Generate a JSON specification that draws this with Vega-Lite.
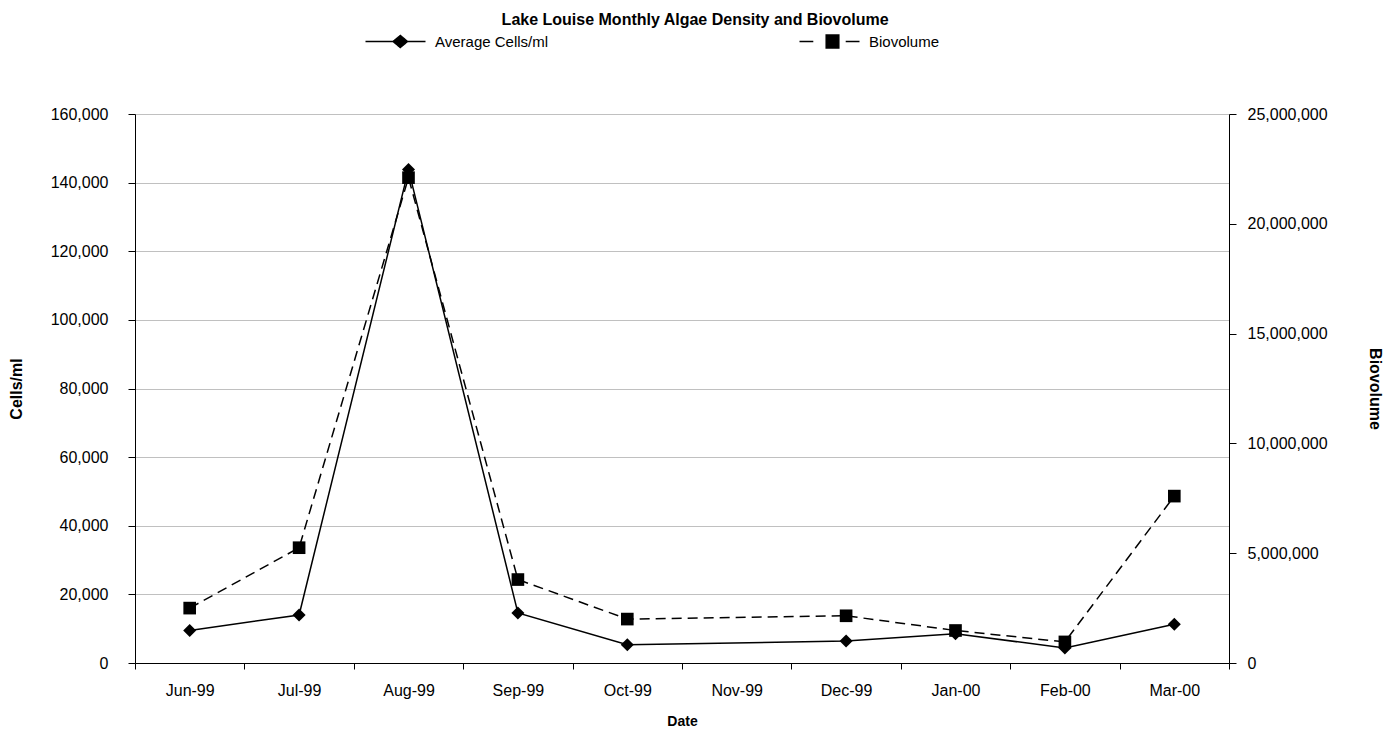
{
  "$schema": "https://vega.github.io/schema/vega-lite/v6.json",
  "width": 1393,
  "height": 731,
  "autosize": {"type": "fit", "contains": "padding"},
  "padding": {"left": 8, "right": 10, "top": 12, "bottom": 3},
  "background": "white",
  "title": {
    "text": "Lake Louise Monthly Algae Density and Biovolume",
    "font": "Liberation Sans",
    "fontSize": 16,
    "fontWeight": "bold",
    "color": "black",
    "anchor": "middle",
    "frame": "bounds",
    "offset": 78
  },
  "config": {
    "view": {"stroke": null},
    "font": "Liberation Sans",
    "axis": {
      "labelFont": "Liberation Sans",
      "labelFontSize": 16,
      "labelColor": "black",
      "titleFont": "Liberation Sans",
      "titleFontSize": 16,
      "titleFontWeight": "bold",
      "titleColor": "black",
      "domainColor": "black",
      "domainWidth": 1,
      "tickColor": "black",
      "tickWidth": 1
    }
  },
  "data": {
    "values": [
      {"month": "Jun-99", "cells": 9500, "bio": 2500000},
      {"month": "Jul-99", "cells": 14000, "bio": 5250000},
      {"month": "Aug-99", "cells": 143800, "bio": 22100000},
      {"month": "Sep-99", "cells": 14600, "bio": 3800000},
      {"month": "Oct-99", "cells": 5300, "bio": 2000000},
      {"month": "Dec-99", "cells": 6400, "bio": 2150000},
      {"month": "Jan-00", "cells": 8500, "bio": 1480000},
      {"month": "Feb-00", "cells": 4400, "bio": 960000},
      {"month": "Mar-00", "cells": 11300, "bio": 7600000}
    ]
  },
  "encoding": {
    "x": {
      "field": "month",
      "type": "ordinal",
      "sort": null,
      "bandPosition": 0.5,
      "scale": {
        "type": "band",
        "domain": ["Jun-99", "Jul-99", "Aug-99", "Sep-99", "Oct-99", "Nov-99", "Dec-99", "Jan-00", "Feb-00", "Mar-00"],
        "paddingInner": 0,
        "paddingOuter": 0
      },
      "axis": {
        "title": "Date",
        "titleFontSize": 14,
        "labelAngle": 0,
        "tickBand": "extent",
        "tickSize": 6,
        "labelPadding": 13,
        "titlePadding": 16,
        "grid": false
      }
    }
  },
  "layer": [
    {
      "encoding": {
        "y": {
          "field": "cells",
          "type": "quantitative",
          "scale": {"domain": [0, 160000], "nice": false},
          "axis": {
            "orient": "left",
            "title": "Cells/ml",
            "values": [0, 20000, 40000, 60000, 80000, 100000, 120000, 140000, 160000],
            "format": ",.0f",
            "grid": true,
            "gridColor": "#c0c0c0",
            "gridWidth": 1,
            "tickSize": 7,
            "labelPadding": 20,
            "titlePadding": 26
          }
        }
      },
      "layer": [
        {
          "mark": {"type": "line", "color": "black", "strokeWidth": 1.5},
          "encoding": {
            "color": {
              "datum": "Average Cells/ml",
              "type": "nominal",
              "scale": {"range": ["black"]},
              "legend": {
                "title": null,
                "orient": "none",
                "legendX": 253,
                "legendY": -80,
                "padding": 0,
                "symbolType": "M-5,0H5M0.8,-1L2,0L0.8,1L-0.4,0Z",
                "symbolSize": 144,
                "symbolFillColor": "black",
                "labelOffset": 32,
                "labelFont": "Liberation Sans",
                "labelFontSize": 15,
                "labelColor": "black",
                "encode": {
                  "symbols": {
                    "update": {
                      "fill": {"value": "black"},
                      "stroke": {"value": "black"},
                      "strokeWidth": {"value": 1.5},
                      "strokeDash": {"value": [1, 0]}
                    }
                  }
                }
              }
            }
          }
        },
        {
          "mark": {"type": "point", "shape": "diamond", "filled": true, "color": "black", "size": 170, "opacity": 1}
        }
      ]
    },
    {
      "encoding": {
        "y": {
          "field": "bio",
          "type": "quantitative",
          "scale": {"domain": [0, 25000000], "nice": false},
          "axis": {
            "orient": "right",
            "title": "Biovolume",
            "values": [0, 5000000, 10000000, 15000000, 20000000, 25000000],
            "format": ",.0f",
            "grid": false,
            "tickSize": 7,
            "labelPadding": 11,
            "titlePadding": 39
          }
        }
      },
      "layer": [
        {
          "mark": {"type": "line", "color": "black", "strokeWidth": 1.5, "strokeDash": [10, 6]},
          "encoding": {
            "strokeWidth": {
              "datum": "Biovolume",
              "type": "ordinal",
              "scale": {"range": [1.5, 1.5]},
              "legend": {
                "title": null,
                "orient": "none",
                "legendX": 687,
                "legendY": -80,
                "padding": 0,
                "symbolType": "M-5,0H-2.7M2.7,0H5M-0.55,-1.1H1.55V1.1H-0.55Z",
                "symbolSize": 144,
                "symbolFillColor": "black",
                "symbolStrokeColor": "black",
                "symbolOpacity": 1,
                "labelOffset": 32,
                "labelFont": "Liberation Sans",
                "labelFontSize": 15,
                "labelColor": "black",
                "encode": {
                  "symbols": {
                    "update": {
                      "fill": {"value": "black"},
                      "fillOpacity": {"value": 1},
                      "stroke": {"value": "black"},
                      "strokeWidth": {"value": 1.5},
                      "strokeDash": {"value": [1, 0]},
                      "size": {"value": 144}
                    }
                  }
                }
              }
            }
          }
        },
        {
          "mark": {"type": "point", "shape": "square", "filled": true, "color": "black", "size": 160, "opacity": 1}
        }
      ]
    }
  ],
  "resolve": {"scale": {"y": "independent", "color": "independent", "strokeWidth": "independent"}}
}
